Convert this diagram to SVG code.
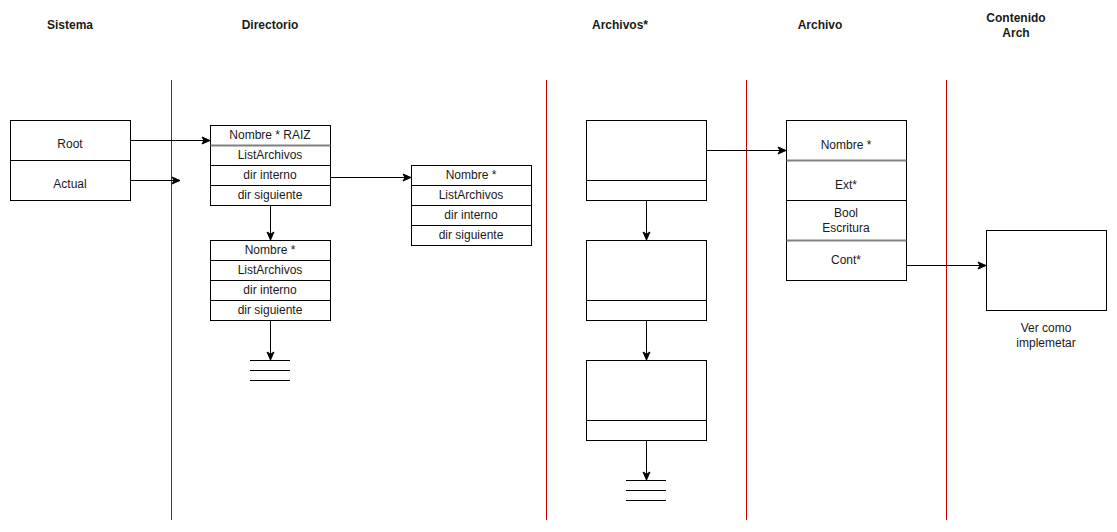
<svg xmlns="http://www.w3.org/2000/svg" width="1117" height="532" viewBox="0 0 1117 532">
<defs>
<marker id="arr" markerWidth="10" markerHeight="10" refX="9" refY="5" orient="auto" markerUnits="userSpaceOnUse">
<path d="M1,1.5 L9,5 L1,8.5 L3,5 Z" fill="#000" stroke="#000" stroke-width="1"/>
</marker>
</defs>
<style>
text{font-family:"Liberation Sans",Arial,sans-serif;font-size:12px;fill:#1a1a1a;text-anchor:middle}
.h{font-weight:bold}
.box{fill:#fff;stroke:#000;stroke-width:1}
.div{stroke:#000;stroke-width:1}
.gdiv{stroke:#808080;stroke-width:2}
.lane{stroke:#cc0000;stroke-width:1}
.c{fill:none;stroke:#000;stroke-width:1}
.gnd{stroke:#000;stroke-width:1}
</style>
<rect width="1117" height="532" fill="#fff"/>
<g id="headers">
<text class="h" x="70" y="29">Sistema</text>
<text class="h" x="270" y="29">Directorio</text>
<text class="h" x="620" y="29">Archivos*</text>
<text class="h" x="820" y="29">Archivo</text>
<text class="h" x="1016" y="22">Contenido</text>
<text class="h" x="1016" y="37">Arch</text>
</g>
<g id="lanes">
<line class="lane" x1="171.5" y1="80" x2="171.5" y2="520"/>
<line class="lane" x1="546.5" y1="80" x2="546.5" y2="520"/>
<line class="lane" x1="746.5" y1="80" x2="746.5" y2="520"/>
<line class="lane" x1="946.5" y1="80" x2="946.5" y2="520"/>
</g>
<g id="sistema">
<rect class="box" x="10.5" y="120.5" width="120" height="80"/>
<line class="div" x1="10.5" y1="160.5" x2="130.5" y2="160.5"/>
<text x="70" y="148">Root</text>
<text x="70" y="188">Actual</text>
</g>
<g id="dir1">
<rect class="box" x="210.5" y="125.5" width="120" height="80"/>
<line class="gdiv" x1="210.5" y1="145.5" x2="330.5" y2="145.5"/>
<line class="div" x1="210.5" y1="165.5" x2="330.5" y2="165.5"/>
<line class="div" x1="210.5" y1="185.5" x2="330.5" y2="185.5"/>
<text x="270" y="139">Nombre * RAIZ</text>
<text x="270" y="159">ListArchivos</text>
<text x="270" y="179">dir interno</text>
<text x="270" y="199">dir siguiente</text>
</g>
<g id="dir2">
<rect class="box" x="210.5" y="240.5" width="120" height="80"/>
<line class="div" x1="210.5" y1="260.5" x2="330.5" y2="260.5"/>
<line class="div" x1="210.5" y1="280.5" x2="330.5" y2="280.5"/>
<line class="div" x1="210.5" y1="300.5" x2="330.5" y2="300.5"/>
<text x="270" y="254">Nombre *</text>
<text x="270" y="274">ListArchivos</text>
<text x="270" y="294">dir interno</text>
<text x="270" y="314">dir siguiente</text>
</g>
<g id="dir3">
<rect class="box" x="411.5" y="165.5" width="120" height="80"/>
<line class="div" x1="411.5" y1="185.5" x2="531.5" y2="185.5"/>
<line class="div" x1="411.5" y1="205.5" x2="531.5" y2="205.5"/>
<line class="div" x1="411.5" y1="225.5" x2="531.5" y2="225.5"/>
<text x="471" y="179">Nombre *</text>
<text x="471" y="199">ListArchivos</text>
<text x="471" y="219">dir interno</text>
<text x="471" y="239">dir siguiente</text>
</g>
<g id="dirNull">
<line class="gnd" x1="250" y1="360.5" x2="290" y2="360.5"/>
<line class="gnd" x1="250" y1="370.5" x2="290" y2="370.5"/>
<line class="gnd" x1="250" y1="380.5" x2="290" y2="380.5"/>
</g>
<g id="arch1">
<rect class="box" x="586.5" y="120.5" width="120" height="80"/>
<line class="div" x1="586.5" y1="180.5" x2="706.5" y2="180.5"/>
</g>
<g id="arch2">
<rect class="box" x="586.5" y="240.5" width="120" height="80"/>
<line class="div" x1="586.5" y1="300.5" x2="706.5" y2="300.5"/>
</g>
<g id="arch3">
<rect class="box" x="586.5" y="360.5" width="120" height="80"/>
<line class="div" x1="586.5" y1="420.5" x2="706.5" y2="420.5"/>
</g>
<g id="archNull">
<line class="gnd" x1="626" y1="480.5" x2="666" y2="480.5"/>
<line class="gnd" x1="626" y1="490.5" x2="666" y2="490.5"/>
<line class="gnd" x1="626" y1="500.5" x2="666" y2="500.5"/>
</g>
<g id="archivo">
<rect class="box" x="786.5" y="120.5" width="120" height="160"/>
<line class="gdiv" x1="786.5" y1="160.5" x2="906.5" y2="160.5"/>
<line class="div" x1="786.5" y1="200.5" x2="906.5" y2="200.5"/>
<line class="gdiv" x1="786.5" y1="240.5" x2="906.5" y2="240.5"/>
<text x="846" y="149">Nombre *</text>
<text x="846" y="189">Ext*</text>
<text x="846" y="217">Bool</text>
<text x="846" y="232">Escritura</text>
<text x="846" y="264">Cont*</text>
</g>
<g id="contenido">
<rect class="box" x="986.5" y="230.5" width="120" height="80"/>
<text x="1046" y="332">Ver como</text>
<text x="1046" y="347">implemetar</text>
</g>
<g id="connectors">
<line class="c" x1="130.5" y1="140.5" x2="210" y2="140.5" marker-end="url(#arr)"/>
<line class="c" x1="130.5" y1="180.5" x2="180" y2="180.5" marker-end="url(#arr)"/>
<line class="c" x1="330.5" y1="177.5" x2="411" y2="177.5" marker-end="url(#arr)"/>
<line class="c" x1="270.5" y1="205.5" x2="270.5" y2="240" marker-end="url(#arr)"/>
<line class="c" x1="270.5" y1="320.5" x2="270.5" y2="360" marker-end="url(#arr)"/>
<line class="c" x1="646.5" y1="200.5" x2="646.5" y2="240" marker-end="url(#arr)"/>
<line class="c" x1="646.5" y1="320.5" x2="646.5" y2="360" marker-end="url(#arr)"/>
<line class="c" x1="646.5" y1="440.5" x2="646.5" y2="480" marker-end="url(#arr)"/>
<line class="c" x1="706.5" y1="150.5" x2="786" y2="150.5" marker-end="url(#arr)"/>
<line class="c" x1="906.5" y1="265.5" x2="986" y2="265.5" marker-end="url(#arr)"/>
</g>
</svg>
